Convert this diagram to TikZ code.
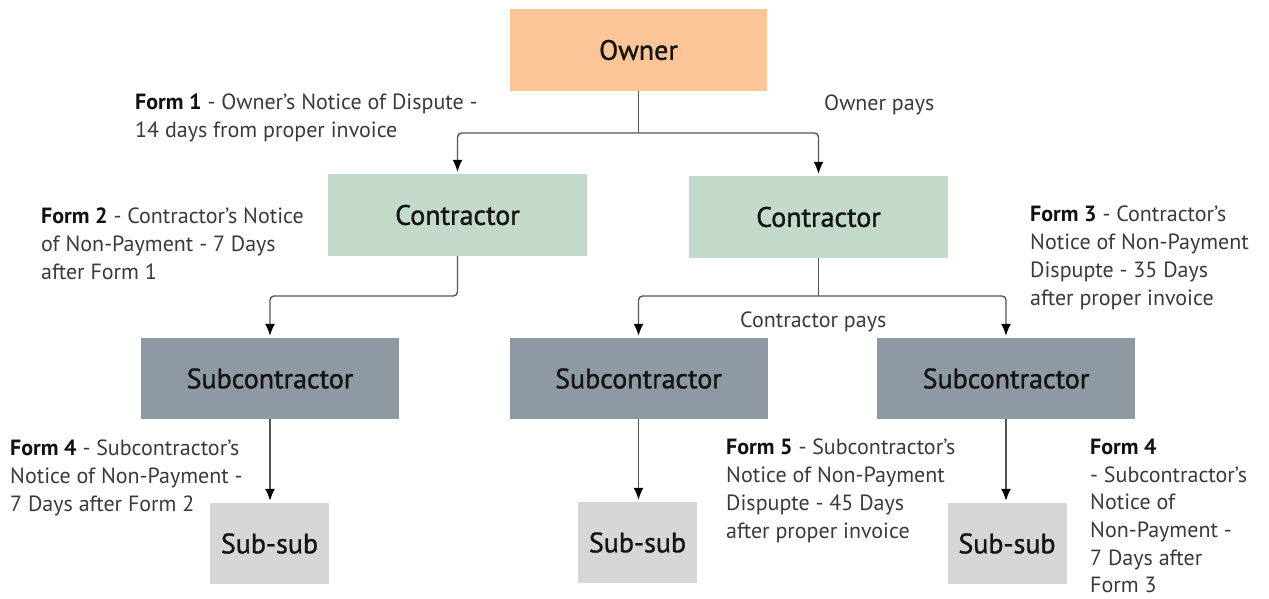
\documentclass[tikz,border=0pt]{standalone}
\usepackage{fontspec}
\setmainfont{PT Sans}
\newfontfamily\labelfont[FakeBold=1.2]{PT Sans}
\usetikzlibrary{arrows.meta}

\definecolor{ownerc}{HTML}{FBC597}
\definecolor{contrc}{HTML}{C3DACA}
\definecolor{subc}{HTML}{8E99A3}
\definecolor{subsubc}{HTML}{D6D6D6}
\definecolor{linec}{HTML}{555555}
\definecolor{notec}{HTML}{3A3A3A}
\definecolor{formc}{HTML}{111111}

\begin{document}
\begin{tikzpicture}[x=1pt,y=-1pt,
  box/.style={rectangle, inner sep=0pt, text=black!92,
    font=\labelfont\fontsize{28}{32}\selectfont},
  ownerbox/.style={box, fill=ownerc, minimum width=257pt, minimum height=82pt},
  contrbox/.style={box, fill=contrc, minimum width=259pt, minimum height=82pt},
  subbox/.style={box, fill=subc, minimum width=258pt, minimum height=81pt},
  subsubbox/.style={box, fill=subsubc, minimum width=119pt, minimum height=81pt},
  note/.style={anchor=north west, inner sep=0pt, align=left, text=notec,
    font=\fontsize{22}{28}\selectfont},
  link/.style={draw=linec, line width=1.4pt, rounded corners=4pt},
  conn/.style={link, -{Latex[length=12pt,width=10pt,color=black]}, shorten >=2pt}
]
\useasboundingbox (0,0) rectangle (1269,599);

% boxes
\node[ownerbox]  (owner) at (638.5,50)   {Owner};
\node[contrbox]  (cl)    at (457.5,215)  {Contractor};
\node[contrbox]  (cr)    at (818.5,217)  {Contractor};
\node[subbox]    (sl)    at (270,378.5)  {Subcontractor};
\node[subbox]    (sm)    at (638.5,378.5){Subcontractor};
\node[subbox]    (sr)    at (1006,378.5) {Subcontractor};
\node[subsubbox] (ssl)   at (269.5,543.5){Sub-sub};
\node[subsubbox] (ssm)   at (637.5,542.5){Sub-sub};
\node[subsubbox] (ssr)   at (1007,543.5) {Sub-sub};

% branch points
\coordinate (ob)  at (owner.south |- 0,133);
\coordinate (clb) at (cl.south |- 0,296);
\coordinate (crb) at (cr.south |- 0,296);

% connectors
\draw[link] (owner.south) -- (ob);
\draw[conn] (ob) -| (cl.north);
\draw[conn] (ob) -| (cr.north);
\draw[conn] (cl.south) -- (clb) -| (sl.north);
\draw[link] (cr.south) -- (crb);
\draw[conn] (crb) -| (sm.north);
\draw[conn] (crb) -| (sr.north);
\draw[conn] (sl.south) -- (sl.south |- ssl.north);
\draw[conn] (sm.south) -- (sm.south |- ssm.north);
\draw[conn] (sr.south) -- (sr.south |- ssr.north);

% notes
\node[note] (n1) at (135,94)
  {{\bfseries\color{formc}Form 1} - Owner's Notice of Dispute -\\14 days from proper invoice};
\node[note] (np) at (824,95) {Owner pays};
\node[note] (n2) at (41,208)
  {{\bfseries\color{formc}Form 2} - Contractor's Notice\\of Non-Payment - 7 Days\\after Form 1};
\node[note] (n3) at (1030,206)
  {{\bfseries\color{formc}Form 3} - Contractor's\\Notice of Non-Payment\\Dispupte - 35 Days\\after proper invoice};
\node[note] (cp) at (740,312) {Contractor pays};
\node[note] (n4) at (10,440)
  {{\bfseries\color{formc}Form 4} - Subcontractor's\\Notice of Non-Payment -\\7 Days after Form 2};
\node[note] (n5) at (726,439)
  {{\bfseries\color{formc}Form 5} - Subcontractor's\\Notice of Non-Payment\\Dispupte - 45 Days\\after proper invoice};
\node[note, font=\fontsize{22}{27.6}\selectfont] (n6) at (1090,439)
  {{\bfseries\color{formc}Form 4}\\- Subcontractor's\\Notice of\\Non-Payment -\\7 Days after\\Form 3};
\end{tikzpicture}
\end{document}
